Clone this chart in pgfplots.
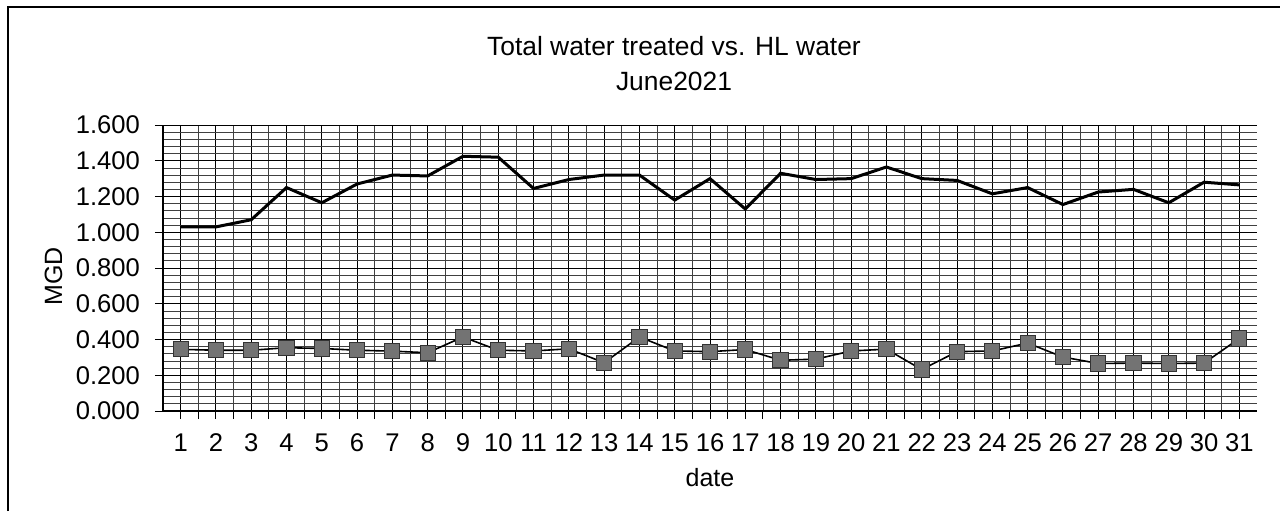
\documentclass[border=0pt]{standalone}
\usepackage{pgfplots}
\pgfplotsset{compat=1.18}
\usepackage{fontspec}
\setmainfont{Liberation Sans}
\begin{document}
\begin{tikzpicture}
\path[use as bounding box] (0,0) rectangle (640pt,255.5pt);
\draw[black, line width=0.6pt] (4pt,0) -- (4pt,252pt) -- (640pt,252pt);
\node[anchor=base, font=\fontsize{13.2}{16}\selectfont] at (337pt,228pt) {Total water treated vs. HL water};
\node[anchor=base, font=\fontsize{13.2}{16}\selectfont] at (337pt,210.5pt) {June2021};
\begin{axis}[
  at={(81.5pt,50pt)}, anchor=south west,
  scale only axis, width=547pt, height=143pt,
  xmin=0.5, xmax=31.5, ymin=0, ymax=1.6,
  xtick={1,...,31},
  ytick={0,0.2,0.4,0.6,0.8,1.0,1.2,1.4,1.6},
  yticklabels={0.000,0.200,0.400,0.600,0.800,1.000,1.200,1.400,1.600},
  minor x tick num=1, minor y tick num=4,
  grid=both,
  major grid style={black, line width=0.5pt},
  minor grid style={black!75, line width=0.4pt},
  tick align=outside, major tick length=4pt, minor tick length=4pt,
  minor y tick style={draw=none},
  tick style={black, line width=0.5pt},
  axis line style={black, line width=0.6pt},
  axis x line*=bottom, axis y line*=left,
  /pgf/number format/assume math mode=true,
  ticklabel style={font=\fontsize{12.8}{15}\selectfont},
  xticklabel style={yshift=-4pt},
  yticklabel style={xshift=-4pt},
  label style={font=\fontsize{12.5}{15}\selectfont},
  xlabel={date},
  xlabel style={at={(axis description cs:0.5,-0.231)}, anchor=center},
  ylabel={MGD},
  ylabel style={at={(axis description cs:-0.1,0.47)}, anchor=center, rotate=0},
  clip=false,
]
\addplot[black, line width=1.5pt, mark=none] coordinates {
(1,1.030) (2,1.030) (3,1.070) (4,1.250) (5,1.165) (6,1.270) (7,1.320) (8,1.315)
(9,1.425) (10,1.420) (11,1.245) (12,1.295) (13,1.320) (14,1.320) (15,1.180)
(16,1.300) (17,1.130) (18,1.330) (19,1.295) (20,1.300) (21,1.365) (22,1.300)
(23,1.290) (24,1.215) (25,1.250) (26,1.155) (27,1.225) (28,1.240) (29,1.165)
(30,1.280) (31,1.265)
};
\addplot[black, line width=0.8pt, mark=square*, mark size=3.8pt,
  mark options={fill=black!55, draw=black!80, line width=0.5pt}] coordinates {
(1,0.345) (2,0.340) (3,0.340) (4,0.354) (5,0.350) (6,0.340) (7,0.335) (8,0.326)
(9,0.414) (10,0.340) (11,0.336) (12,0.348) (13,0.270) (14,0.414) (15,0.336)
(16,0.332) (17,0.344) (18,0.284) (19,0.290) (20,0.336) (21,0.346) (22,0.232)
(23,0.332) (24,0.336) (25,0.380) (26,0.302) (27,0.266) (28,0.268) (29,0.266)
(30,0.268) (31,0.406)
};
\end{axis}
\end{tikzpicture}
\end{document}
